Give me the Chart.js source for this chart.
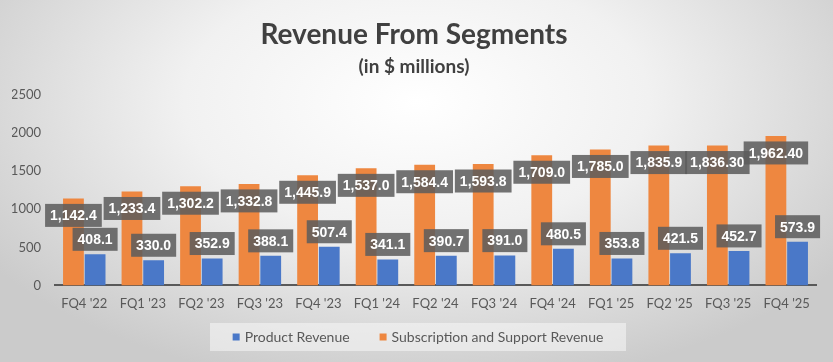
<!DOCTYPE html>
<html>
<head>
<meta charset="utf-8">
<script src="https://cdn.jsdelivr.net/npm/chart.js@4.4.1/dist/chart.umd.min.js"></script>
<style>
  html, body { margin: 0; padding: 0; }
  #wrap {
    width: 833px;
    height: 362px;
    background: radial-gradient(ellipse 62% 80% at 50% 28%, #ffffff 0%, #f1f1f1 45%, #cbcbcb 100%);
  }
</style>
</head>
<body>
<div id="wrap"><canvas id="chart" width="833" height="362"></canvas></div>
<script>
var categories = ["FQ4 '22", "FQ1 '23", "FQ2 '23", "FQ3 '23", "FQ4 '23", "FQ1 '24", "FQ2 '24",
  "FQ3 '24", "FQ4 '24", "FQ1 '25", "FQ2 '25", "FQ3 '25", "FQ4 '25"];

var productRevenue = [408.1, 330.0, 352.9, 388.1, 507.4, 341.1, 390.7, 391.0, 480.5, 353.8, 421.5, 452.7, 573.9];

var subscriptionRevenue = [1142.4, 1233.4, 1302.2, 1332.8, 1445.9, 1537.0, 1584.4, 1593.8, 1709.0, 1785.0,
  1835.9, 1836.3, 1962.4];

// label text as printed on the chart (last two are shown with 2 decimals)
var productText = ["408.1", "330.0", "352.9", "388.1", "507.4", "341.1", "390.7", "391.0", "480.5", "353.8",
  "421.5", "452.7", "573.9"];
var subscriptionText = ["1,142.4", "1,233.4", "1,302.2", "1,332.8", "1,445.9", "1,537.0", "1,584.4", "1,593.8",
  "1,709.0", "1,785.0", "1,835.9", "1,836.30", "1,962.40"];

var yTicks = [0, 500, 1000, 1500, 2000, 2500];

var textGray = "#595959";

// gray boxes with white numbers
var valueBoxes = {
  id: "valueBoxes",
  afterDatasetsDraw: function (chart) {
    var ctx = chart.ctx;
    ctx.save();
    ctx.font = 'bold 14px "Liberation Sans"';
    ctx.textAlign = "center";
    ctx.textBaseline = "middle";
    chart.data.datasets.forEach(function (ds, i) {
      var meta = chart.getDatasetMeta(i);
      meta.data.forEach(function (bar, j) {
        var txt = ds.valueText[j];
        var w = ctx.measureText(txt).width + 10;
        var h = 23;
        var cy = i === 0 ? bar.y + 17 : bar.y - 15;
        ctx.fillStyle = "rgba(92,92,92,0.86)";
        ctx.fillRect(bar.x - w / 2, cy - h / 2, w, h);
        ctx.fillStyle = "#ffffff";
        ctx.fillText(txt, bar.x, cy + 1);
      });
    });
    ctx.restore();
  },
};

// legend drawn by hand so it sits in its light box like the original
var boxLegend = {
  id: "boxLegend",
  afterDraw: function (chart) {
    var ctx = chart.ctx;
    var items = chart.data.datasets.slice().reverse();
    ctx.save();
    ctx.font = '14px Lato';
    var sq = 7, gapText = 5, gapItem = 30;
    var total = 0;
    items.forEach(function (ds, k) {
      total += sq + gapText + ctx.measureText(ds.label).width;
      if (k > 0) total += gapItem;
    });
    var cx = 418, cy = 337;
    ctx.fillStyle = "rgba(248,248,248,0.55)";
    ctx.fillRect(210, 323, 416, 28);
    var x = cx - total / 2;
    ctx.textBaseline = "middle";
    items.forEach(function (ds) {
      ctx.fillStyle = ds.backgroundColor;
      ctx.fillRect(x, cy - sq / 2, sq, sq);
      x += sq + gapText;
      ctx.fillStyle = textGray;
      ctx.fillText(ds.label, x, cy);
      x += ctx.measureText(ds.label).width + gapItem;
    });
    ctx.restore();
  },
};

var ctx = document.getElementById("chart");
new Chart(ctx, {
  type: "bar",
  data: {
    labels: categories,
    datasets: [
      {
        label: "Subscription and Support Revenue",
        data: subscriptionRevenue,
        valueText: subscriptionText,
        backgroundColor: "#EE8740",
        categoryPercentage: 0.74,
        barPercentage: 0.96,
      },
      {
        label: "Product Revenue",
        data: productRevenue,
        valueText: productText,
        backgroundColor: "#4A78C8",
        categoryPercentage: 0.74,
        barPercentage: 0.96,
      },
    ],
  },
  options: {
    responsive: false,
    animation: false,
    layout: {
      padding: { left: 12, right: 17, bottom: 39 },
    },
    plugins: {
      legend: { display: false },
      tooltip: { enabled: false },
      title: {
        display: true,
        text: "Revenue From Segments",
        color: "#404040",
        font: { family: "Lato", size: 28, weight: "bold" },
        padding: { top: 18, bottom: 4 },
      },
      subtitle: {
        display: true,
        text: "(in $ millions)",
        color: "#404040",
        font: { family: "Lato", size: 19, weight: "bold" },
        padding: { bottom: 16.6 },
      },
    },
    scales: {
      x: {
        grid: { display: false, drawTicks: false },
        border: { display: true, color: "#595959", width: 2 },
        ticks: {
          color: textGray,
          font: { family: "Lato", size: 13 },
          padding: 11,
          maxRotation: 0,
          autoSkip: false,
        },
      },
      y: {
        min: 0,
        max: 2500,
        afterBuildTicks: function (axis) {
          axis.ticks = yTicks.map(function (v) { return { value: v }; });
        },
        afterFit: function (axis) {
          axis.width = 43;
        },
        grid: { display: false, drawTicks: false },
        border: { display: false },
        ticks: {
          color: textGray,
          font: { family: "Lato", size: 13 },
          padding: 14,
          callback: function (v) { return String(v); },
        },
      },
    },
  },
  plugins: [valueBoxes, boxLegend],
});
</script>
</body>
</html>
